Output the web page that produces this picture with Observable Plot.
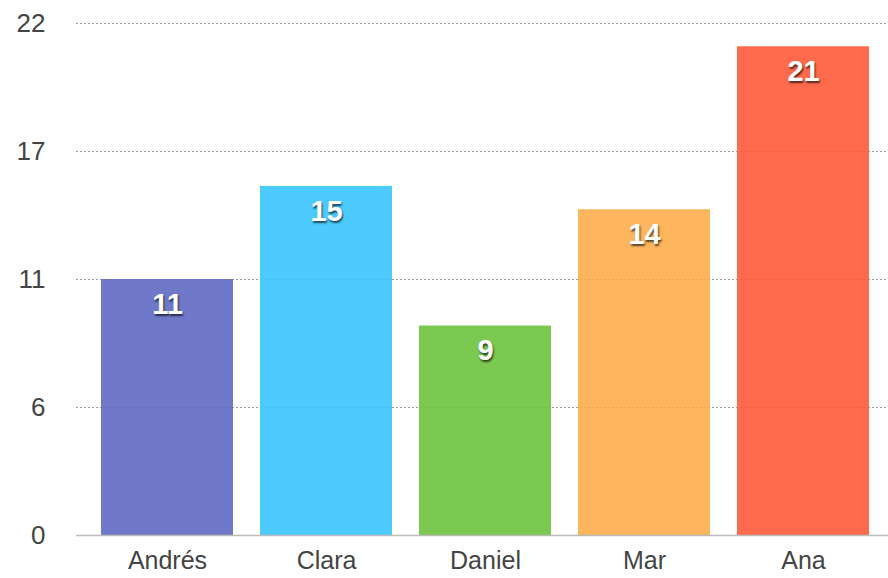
<!DOCTYPE html>
<html>
<head>
<meta charset="utf-8">
<script src="https://cdn.jsdelivr.net/npm/d3@7"></script>
<script src="https://cdn.jsdelivr.net/npm/@observablehq/plot@0.6"></script>
<style>
  html, body { margin: 0; padding: 0; background: #fff; }
  #chart svg { display: block; }
  #chart g[aria-label="text"] text { text-shadow: 1px 2px 2px rgba(0,0,0,0.65); }
</style>
</head>
<body>
<div id="chart"></div>
<script>
const names = ["Andrés", "Clara", "Daniel", "Mar", "Ana"];
const values = [11, 15, 9, 14, 21];
const colors = ["#7079c9", "#4ecbfe", "#7bc951", "#fdb65d", "#fe6a4b"];
const yTicks = [0, 5.5, 11, 16.5, 22];

const data = names.map((n, i) => ({name: n, value: values[i], color: colors[i]}));

const chart = Plot.plot({
  width: 888,
  height: 578,
  marginLeft: 76,
  marginRight: 0,
  marginTop: 23,
  marginBottom: 43,
  style: {fontFamily: "'Liberation Sans', Arial, Helvetica, sans-serif", background: "#fff"},
  x: {domain: names, range: [74, 897], paddingInner: 0.169, paddingOuter: 0.17, label: null},
  y: {domain: [0, 22], label: null},
  marks: [
    Plot.gridY(yTicks, {stroke: "#aaa", strokeOpacity: 1, strokeDasharray: "2,2", strokeWidth: 1}),
    Plot.barY(data, {x: "name", y: "value", fill: "color"}),
    Plot.gridY(yTicks, {stroke: "#000", strokeOpacity: 0.08, strokeDasharray: "2,2", strokeWidth: 1}),
    Plot.ruleY([0], {stroke: "#bbb", strokeWidth: 1.5}),
    Plot.axisY(yTicks, {tickSize: 0, tickPadding: 31, tickFormat: d => String(Math.round(d)), fontSize: 26, fill: "#444", label: null}),
    Plot.axisX({tickSize: 0, tickPadding: 16, fontSize: 25, fill: "#444", label: null}),
    Plot.text(data, {x: "name", y: "value", text: d => String(d.value), dy: 25, fill: "white", fontSize: 29, fontWeight: "bold"})
  ]
});
document.getElementById("chart").appendChild(chart);
</script>
</body>
</html>
